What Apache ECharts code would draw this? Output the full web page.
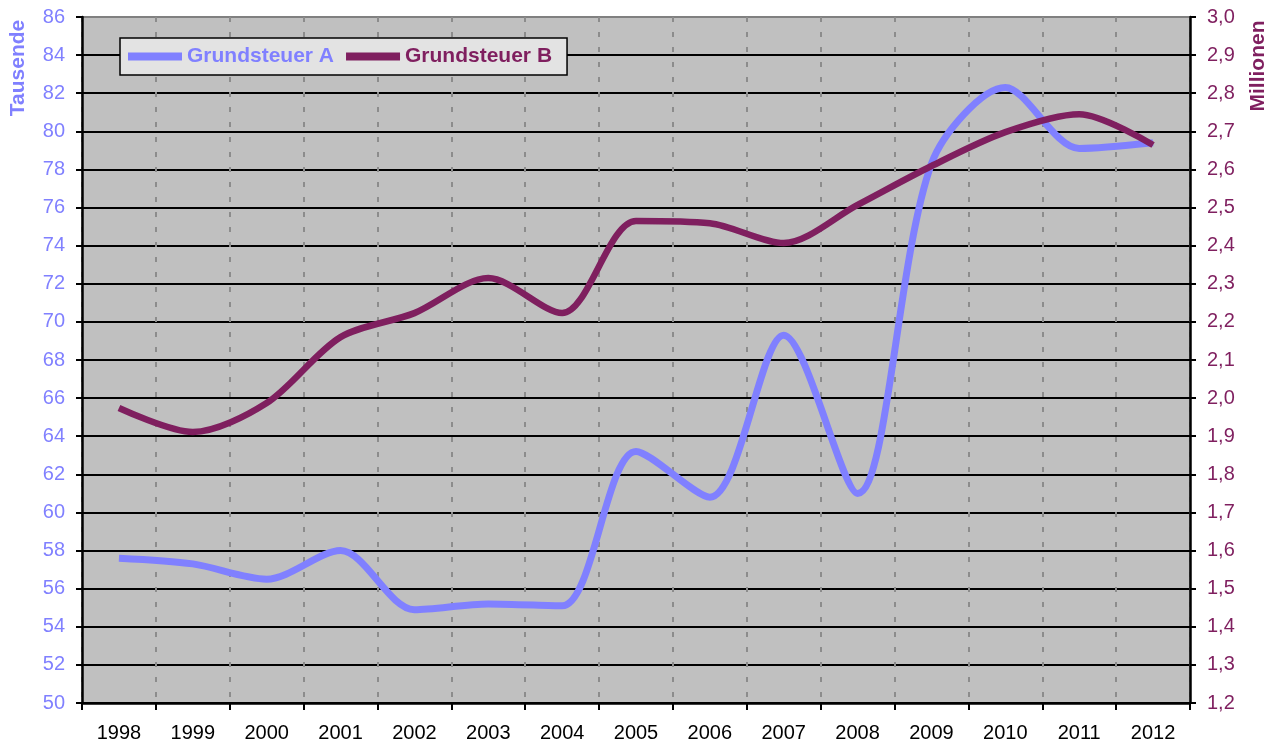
<!DOCTYPE html>
<html>
<head>
<meta charset="utf-8">
<script src="https://cdn.jsdelivr.net/npm/echarts@6/dist/echarts.min.js"></script>
<style>
html,body{margin:0;padding:0;background:#fff;}
#chart{width:1279px;height:747px;}
</style>
</head>
<body>
<div id="chart"></div>
<script>
const years = ['1998','1999','2000','2001','2002','2003','2004','2005','2006','2007','2008','2009','2010','2011','2012'];
const grundsteuerA = [57.6, 57.3, 56.5, 58.0, 54.9, 55.2, 55.1, 63.2, 60.8, 69.3, 61.0, 78.3, 82.3, 79.1, 79.4];
const grundsteuerB = [1.974, 1.911, 1.987, 2.160, 2.223, 2.315, 2.223, 2.465, 2.459, 2.407, 2.507, 2.609, 2.698, 2.745, 2.664];
const leftAxisName = 'Tausende';
const rightAxisName = 'Millionen';
const seriesNames = ['Grundsteuer A', 'Grundsteuer B'];

const colA = '#8080FF';
const colB = '#7F1F5F';
const font = '"Liberation Sans", Arial, sans-serif';

const chart = echarts.init(document.getElementById('chart'), null, {renderer: 'canvas'});

const splitColors = [];
for (let i = 0; i < 18; i++) splitColors.push('#000000');
splitColors.push('#808080');

chart.setOption({
  animation: false,
  backgroundColor: '#ffffff',
  grid: {
    left: 82, right: 89, top: 17, bottom: 44,
    show: true, backgroundColor: '#C0C0C0', borderColor: '#808080', borderWidth: 1,
    containLabel: false
  },
  legend: {
    left: 120, top: 38,
    orient: 'horizontal',
    backgroundColor: '#E3E3E3',
    borderColor: '#000', borderWidth: 1.5,
    padding: [8, 15, 8, 8],
    itemGap: 12, itemWidth: 54, itemHeight: 8,
    icon: 'rect',
    data: [
      {name: seriesNames[0], textStyle: {color: colA}},
      {name: seriesNames[1], textStyle: {color: colB}}
    ],
    textStyle: {fontFamily: font, fontSize: 21, fontWeight: 'bold'}
  },
  xAxis: {
    type: 'category',
    data: years,
    boundaryGap: true,
    axisLine: {show: true, lineStyle: {color: '#000', width: 2.5}},
    axisTick: {show: true, length: 7, lineStyle: {color: '#000', width: 2}},
    axisLabel: {color: '#000', fontFamily: font, fontSize: 20, margin: 20},
    splitLine: {show: true, lineStyle: {color: '#8C8C8C', width: 2, type: [5, 10]}}
  },
  yAxis: [
    {
      type: 'value', min: 50, max: 86, interval: 2,
      position: 'left',
      axisLine: {show: true, lineStyle: {color: '#000', width: 2.5}},
      axisTick: {show: true, length: 6, lineStyle: {color: '#000', width: 2}},
      axisLabel: {color: colA, fontFamily: font, fontSize: 20, margin: 17},
      splitLine: {show: true, lineStyle: {color: splitColors, width: 2}}
    },
    {
      type: 'value', min: 1.2, max: 3.0, interval: 0.1,
      position: 'right',
      axisLine: {show: true, lineStyle: {color: '#000', width: 2.5}},
      axisTick: {show: true, length: 6, lineStyle: {color: '#000', width: 2}},
      axisLabel: {
        color: colB, fontFamily: font, fontSize: 20, margin: 17,
        formatter: v => v.toFixed(1).replace('.', ',')
      },
      splitLine: {show: false}
    }
  ],
  series: [
    {
      name: seriesNames[0], type: 'line', yAxisIndex: 0,
      data: grundsteuerA, smooth: 0.3, showSymbol: false,
      color: colA,
      lineStyle: {color: colA, width: 7}, z: 3
    },
    {
      name: seriesNames[1], type: 'line', yAxisIndex: 1,
      data: grundsteuerB, smooth: 0.3, showSymbol: false,
      color: colB,
      lineStyle: {color: colB, width: 6.5}, z: 4
    }
  ],
  graphic: [
    {
      type: 'text', x: 18, y: 68, rotation: Math.PI / 2,
      style: {text: leftAxisName, fill: colA, font: 'bold 21px ' + font, textAlign: 'center', textVerticalAlign: 'middle'}
    },
    {
      type: 'text', x: 1258, y: 66, rotation: Math.PI / 2,
      style: {text: rightAxisName, fill: colB, font: 'bold 21px ' + font, textAlign: 'center', textVerticalAlign: 'middle'}
    }
  ]
});
</script>
</body>
</html>
